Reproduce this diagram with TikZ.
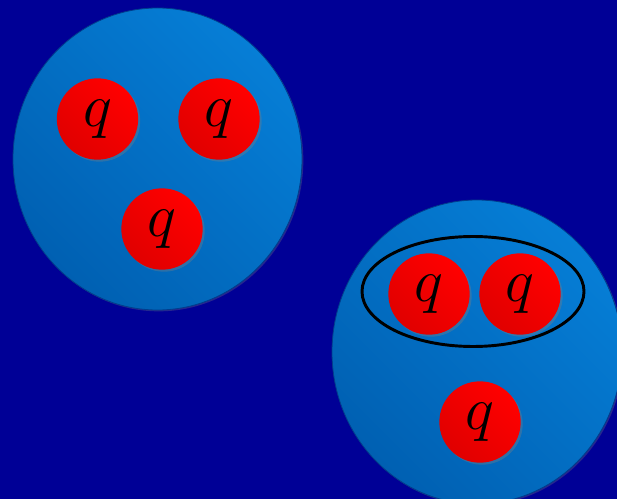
\documentclass[tikz,border=0pt]{standalone}
\usepackage{graphicx}
\usetikzlibrary{shadows}
\definecolor{bgBlue}{RGB}{0,0,150}
\definecolor{hadLight}{RGB}{6,126,214}
\definecolor{hadDark}{RGB}{0,96,178}
\definecolor{hadRim}{RGB}{0,62,140}
\definecolor{qRed}{RGB}{255,0,0}
\newcommand{\qlab}{\scalebox{1.85}{\Huge$q$}}
\tikzset{
  hadron/.style={top color=hadLight, bottom color=hadDark, shading angle=-45,
    draw=hadRim, line width=0.6pt,
    drop shadow={shadow xshift=1pt, shadow yshift=-1pt, opacity=0.3}},
  quark/.style={circle, inner sep=0pt, minimum size=61pt,
    top color=qRed, middle color=qRed, bottom color=qRed!88!black, shading angle=-45,
    drop shadow={shadow xshift=1.5pt, shadow yshift=-1.5pt, opacity=0.35}},
  diquark/.style={draw=black, line width=2.2pt}
}
\begin{document}
\begin{tikzpicture}[x=0.75pt, y=-0.75pt]
\useasboundingbox (0,0) rectangle (617,499);
\clip (0,0) rectangle (617,499);
\fill[bgBlue] (0,0) rectangle (617,499);
% left hadron: three free quarks
\path[hadron] (157.5,159) ellipse [x radius=144.5, y radius=151];
\node[quark] (qa) at (97.5,119) {\qlab};
\node[quark] (qb) at (219,119) {\qlab};
\node[quark] (qc) at (162,229) {\qlab};
% right hadron: diquark + quark
\path[hadron] (477,352) ellipse [x radius=145, y radius=152];
\node[quark] (qd) at (429,294) {\qlab};
\node[quark] (qe) at (520,294) {\qlab};
\node[quark] (qf) at (480,422) {\qlab};
\draw[diquark] (473,291.5) ellipse [x radius=111, y radius=55];
\end{tikzpicture}
\end{document}
